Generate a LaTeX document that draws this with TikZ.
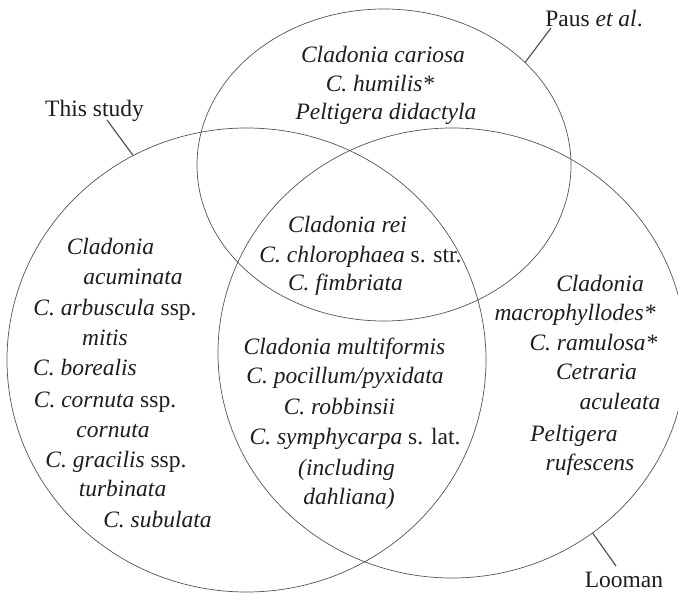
\documentclass[tikz,border=0pt]{standalone}
\usepackage{fontspec}
\setmainfont{Liberation Serif}
\usetikzlibrary{shapes.geometric}
\definecolor{txt}{HTML}{1E1E1E}
\definecolor{ring}{HTML}{555555}
\begin{document}
\begin{tikzpicture}[x=1pt,y=-1pt,
  set/.style={ellipse, draw=ring, line width=0.7pt, inner sep=0pt, outer sep=0pt},
  lbl/.style={anchor=base, inner sep=0pt, text=txt, font=\fontsize{23.5}{28}\selectfont},
  leader/.style={draw=ring, line width=1.2pt}]
\useasboundingbox (0,0) rectangle (678,593);
\clip (0,0) rectangle (678,593);
\fill[white] (0,0) rectangle (678,593);

% the three sets
\node[set, minimum width=374pt, minimum height=312pt] (paus) at (384,165) {};
\node[set, minimum width=479pt, minimum height=464pt] (study) at (246.5,360) {};
\node[set, minimum width=468pt, minimum height=450pt] (looman) at (452,353) {};

% set labels
\node[lbl] (lstudy) at (94.5,117) {This study};
\node[lbl] (lpaus) at (594,27) {Paus \textit{et al}.};
\node[lbl] (llooman) at (624,587) {Looman};
\coordinate (cstudy) at (107,120);
\coordinate (cpaus) at (551,28);
\coordinate (clooman) at (616,566);
\draw[leader] (cstudy) -- (study.119.85);
\draw[leader] (cpaus) -- (paus.36.1);
\draw[leader] (clooman) -- (looman.-52.4);

% Paus only
\node[lbl] (p1) at (383,63) {\textit{Cladonia cariosa}};
\node[lbl] (p2) at (380,92) {\textit{C. humilis*}};
\node[lbl] (p3) at (386,120) {\textit{Peltigera didactyla}};

% all three
\node[lbl] (a1) at (347.5,233) {\textit{Cladonia rei}};
\node[lbl] (a2) at (360.5,263) {\textit{C. chlorophaea} s. str.};
\node[lbl] (a3) at (345.5,291) {\textit{C. fimbriata}};

% this study only
\node[lbl] (s1) at (110.5,255) {\textit{Cladonia}};
\node[lbl] (s2) at (133,285) {\textit{acuminata}};
\node[lbl] (s3) at (115,316) {\textit{C. arbuscula} ssp.};
\node[lbl] (s4) at (105,346) {\textit{mitis}};
\node[lbl] (s5) at (85,376) {\textit{C. borealis}};
\node[lbl] (s6) at (105,408) {\textit{C. cornuta} ssp.};
\node[lbl] (s7) at (113,438) {\textit{cornuta}};
\node[lbl] (s8) at (116,468) {\textit{C. gracilis} ssp.};
\node[lbl] (s9) at (122.5,497) {\textit{turbinata}};
\node[lbl] (s10) at (157.5,528) {\textit{C. subulata}};

% this study and Looman
\node[lbl] (m1) at (344.5,355) {\textit{Cladonia multiformis}};
\node[lbl] (m2) at (345,384) {\textit{C. pocillum/pyxidata}};
\node[lbl] (m3) at (339.5,415) {\textit{C. robbinsii}};
\node[lbl] (m4) at (355,445) {\textit{C. symphycarpa} s. lat.};
\node[lbl] (m5) at (346.5,476) {\textit{(including}};
\node[lbl] (m6) at (349,505) {\textit{dahliana)}};

% Looman only
\node[lbl] (r1) at (600,292) {\textit{Cladonia}};
\node[lbl] (r2) at (575,321) {\textit{macrophyllodes*}};
\node[lbl] (r3) at (593.5,351) {\textit{C. ramulosa*}};
\node[lbl] (r4) at (596.5,380) {\textit{Cetraria}};
\node[lbl] (r5) at (620,410) {\textit{aculeata}};
\node[lbl] (r6) at (574,442) {\textit{Peltigera}};
\node[lbl] (r7) at (590,471) {\textit{rufescens}};
\end{tikzpicture}
\end{document}
